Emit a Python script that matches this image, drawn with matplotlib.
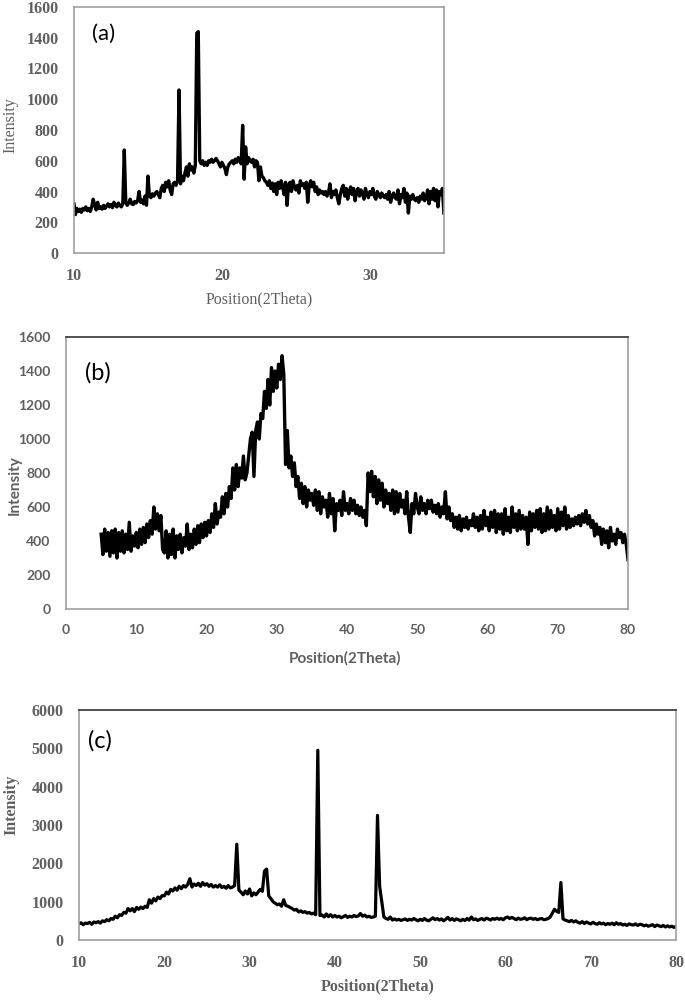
import matplotlib
matplotlib.use("Agg")
import matplotlib.pyplot as plt
import numpy as np

# ---- (a) 2theta 10..35, step 0.1 ----
two_theta_a = np.linspace(10.0, 35.0, 251)
intensity_a = [
    320, 250, 290, 270, 285, 265, 290, 280, 300, 275,
    290, 270, 300, 350, 310, 280, 330, 290, 300, 285,
    310, 290, 305, 320, 300, 315, 295, 330, 310, 300,
    325, 310, 300, 320, 670, 330, 310, 325, 350, 320,
    315, 335, 325, 340, 400, 330, 345, 320, 370, 310,
    500, 370, 360, 385, 370, 390, 400, 380, 360, 420,
    440, 400, 460, 430, 470, 410, 380, 450, 460, 440,
    470, 1060, 450, 500, 470, 520, 560, 500, 580, 540,
    560, 520, 570, 1430, 1440, 600, 580, 600, 570, 590,
    570, 600, 590, 610, 590, 600, 615, 600, 580, 560,
    590, 570, 550, 510, 560, 580, 590, 600, 580, 610,
    590, 620, 600, 580, 830, 480, 690, 580, 620, 600,
    590, 610, 560, 600, 590, 470, 560, 500, 490, 470,
    460, 440, 470, 420, 455, 400, 450, 380, 460, 420,
    470, 430, 380, 460, 310, 440, 460, 400, 470, 430,
    410, 440, 390, 470, 440, 450, 420, 460, 330, 440,
    470, 430, 460, 400, 430, 380, 410, 390, 400, 380,
    400, 370, 390, 450, 360, 400, 380, 410, 360, 320,
    380, 420, 440, 370, 420, 350, 400, 430, 380, 420,
    340, 400, 420, 370, 410, 390, 350, 420, 380, 360,
    400, 380, 420, 370, 350, 400, 380, 360, 390, 370,
    360, 380, 350, 400, 330, 370, 390, 360, 350, 410,
    320, 380, 360, 420, 330, 390, 260, 370, 350, 380,
    350, 340, 360, 330, 370, 350, 390, 340, 360, 410,
    320, 400, 350, 420, 340, 410, 300, 400, 380, 420,
    260,
]

# ---- (b) 2theta 5..80, step 0.25 ----
two_theta_b = np.linspace(5.0, 80.0, 301)
intensity_b = [
    440, 320, 470, 340,  450, 310, 460, 330,  470, 300, 450, 340,
    460, 330, 440, 350,  510, 340, 430, 370,  450, 360, 470, 380,
    480, 390, 500, 420,  520, 440, 600, 470,  560, 460, 550, 350,
    330, 460, 300, 440,  320, 470, 300, 430,  350, 440, 330, 420,
    370, 500, 350, 440,  360, 470, 380, 490,  390, 500, 420, 510,
    430, 520, 450, 560,  480, 620, 500, 570,  540, 660, 560, 680,
    600, 720, 650, 830,  700, 850, 720, 830,  770, 900, 760, 800,
    900, 1000, 1040, 780,  1050, 1100, 1000, 1150,  1120, 1280, 1180, 1350,
    1200, 1420, 1280, 1400,  1300, 1440, 1350, 1490,  1380, 850, 1050, 830,
    900, 780, 860, 720,  780, 650, 740, 620,  720, 600, 700, 640,
    680, 610, 700, 580,  690, 560, 660, 600,  640, 540, 680, 560,
    650, 460, 620, 580,  640, 550, 690, 580,  620, 560, 650, 580,
    640, 560, 610, 550,  600, 540, 580, 490,  800, 690, 810, 660,
    780, 620, 760, 640,  740, 600, 700, 620,  680, 580, 700, 560,
    690, 570, 680, 600,  640, 560, 690, 540,  450, 620, 560, 680,
    600, 560, 660, 580,  620, 560, 640, 590,  640, 570, 610, 560,
    620, 540, 600, 560,  690, 530, 600, 520,  560, 480, 540, 470,
    550, 460, 530, 480,  540, 470, 520, 490,  560, 480, 540, 460,
    550, 470, 580, 490,  540, 460, 570, 480,  580, 450, 560, 470,
    560, 440, 590, 460,  540, 450, 600, 480,  560, 460, 580, 470,
    550, 470, 540, 380,  570, 460, 560, 480,  580, 470, 590, 450,
    560, 460, 600, 470,  580, 480, 550, 460,  590, 470, 570, 490,
    600, 470, 550, 480,  530, 490, 540, 500,  550, 490, 560, 510,
    580, 500, 550, 480,  520, 430, 500, 440,  480, 380, 470, 390,
    460, 360, 480, 400,  440, 380, 470, 420,  450, 390, 440, 380,
    290,
]

# ---- (c) 2theta 10..80, step 0.25 ----
two_theta_c = np.linspace(10.0, 80.0, 281)
intensity_c = [
    420, 450, 400, 440,  430, 460, 410, 470,  450, 480, 440, 500,
    480, 530, 500, 560,  540, 620, 580, 660,  640, 720, 700, 820,
    760, 820, 740, 850,  800, 860, 820, 880,  850, 1050, 960, 1080,
    1020, 1120, 1080, 1160,  1150, 1250, 1200, 1320,  1280, 1360, 1300, 1400,
    1340, 1420, 1380, 1450,  1600, 1380, 1460, 1420,  1480, 1400, 1500, 1430,
    1470, 1400, 1450, 1380,  1420, 1380, 1440, 1370,  1400, 1350, 1420, 1360,
    1380, 1420, 2500, 1300,  1250, 1180, 1280, 1200,  1330, 1150, 1230, 1180,
    1250, 1320, 1270, 1800,  1850, 1150, 1080, 1000,  960, 920, 940, 880,
    1050, 900, 880, 850,  820, 780, 800, 730,  760, 720, 740, 700,
    720, 680, 700, 660,  4950, 640, 650, 600,  680, 610, 660, 600,
    640, 600, 620, 580,  610, 640, 590, 620,  600, 640, 610, 630,
    690, 620, 650, 600,  620, 590, 600, 620,  3250, 1400, 1000, 600,
    560, 540, 600, 520,  550, 520, 540, 510,  530, 550, 510, 540,
    520, 560, 530, 500,  540, 510, 560, 520,  500, 540, 580, 530,
    560, 520, 550, 500,  540, 590, 520, 560,  510, 550, 530, 500,
    540, 510, 560, 520,  600, 530, 550, 510,  540, 560, 520, 570,
    550, 520, 560, 540,  570, 540, 560, 530,  580, 600, 560, 590,
    560, 530, 570, 540,  550, 580, 530, 560,  570, 540, 560, 530,
    550, 560, 530, 540,  560, 600, 700, 800,  750, 720, 1500, 550,
    520, 500, 480, 510,  470, 500, 460, 440,  480, 430, 470, 440,
    420, 460, 430, 410,  450, 420, 440, 400,  430, 410, 440, 400,
    450, 410, 430, 390,  410, 380, 420, 400,  390, 420, 380, 410,
    400, 370, 390, 360,  380, 400, 350, 390,  370, 350, 380, 340,
    370, 340, 360, 330,
    350,
]

fig = plt.figure(figsize=(6.85, 10.0), dpi=100)

serif = "Liberation Serif"
sans = "Lato"
grey = "#5f5f5f"


def style_axes(ax, xticks, yticks, font, weight, size, top_color):
    ax.set_xticks(xticks, [str(t) for t in xticks], fontfamily=font,
                  fontweight=weight, fontsize=size, color=grey)
    ax.set_yticks(yticks, [str(t) for t in yticks], fontfamily=font,
                  fontweight=weight, fontsize=size, color=grey)
    ax.tick_params(length=0, pad=11)
    for side in ("left", "bottom", "right"):
        ax.spines[side].set_color("#a0a0a0")
        ax.spines[side].set_linewidth(1.2)
    ax.spines["top"].set_color(top_color)
    ax.spines["top"].set_linewidth(1.2)


# (a)
ax1 = fig.add_axes([0.108, 0.747, 0.540, 0.246])
ax1.plot(two_theta_a, intensity_a, color="black", lw=2.4)
ax1.set_xlim(10, 35)
ax1.set_ylim(0, 1600)
style_axes(ax1, [10, 20, 30], list(range(0, 1601, 200)), serif, "bold", 11.5, "#a0a0a0")
ax1.set_ylabel("Intensity", family=serif, fontsize=11.5, color=grey)
ax1.set_xlabel("Position(2Theta)", family=serif, fontsize=11.5, color=grey)
ax1.yaxis.set_label_coords(-0.15, 0.52)
ax1.xaxis.set_label_coords(0.5, -0.155)
ax1.text(0.05, 0.89, "(a)", transform=ax1.transAxes, family=sans,
         fontsize=16, va="center", ha="left")

# (b)
ax2 = fig.add_axes([0.0964, 0.391, 0.8204, 0.272])
ax2.plot(two_theta_b, intensity_b, color="black", lw=2.4)
ax2.set_xlim(0, 80)
ax2.set_ylim(0, 1600)
style_axes(ax2, list(range(0, 81, 10)), list(range(0, 1601, 200)), sans, "bold", 10, "#333333")
ax2.set_ylabel("Intensity", family=sans, fontweight="bold", fontsize=11, color=grey)
ax2.set_xlabel("Position(2Theta)", family=sans, fontweight="bold", fontsize=11, color=grey)
ax2.yaxis.set_label_coords(-0.078, 0.456)
ax2.xaxis.set_label_coords(0.496, -0.155)
ax2.text(0.034, 0.87, "(b)", transform=ax2.transAxes, family=sans,
         fontsize=17, va="center", ha="left")

# (c)
ax3 = fig.add_axes([0.1153, 0.060, 0.8716, 0.230])
ax3.plot(two_theta_c, intensity_c, color="black", lw=2.3)
ax3.set_xlim(10, 80)
ax3.set_ylim(0, 6000)
style_axes(ax3, list(range(10, 81, 10)), list(range(0, 6001, 1000)), serif, "bold", 11.5, "#333333")
ax3.set_ylabel("Intensity", family=serif, fontweight="bold", fontsize=11.5, color=grey)
ax3.set_xlabel("Position(2Theta)", family=serif, fontweight="bold", fontsize=11.5, color=grey)
ax3.yaxis.set_label_coords(-0.10, 0.587)
ax3.xaxis.set_label_coords(0.5, -0.165)
ax3.text(0.015, 0.865, "(c)", transform=ax3.transAxes, family=sans,
         fontsize=17, va="center", ha="left")

fig.savefig("out.png", dpi=100)
